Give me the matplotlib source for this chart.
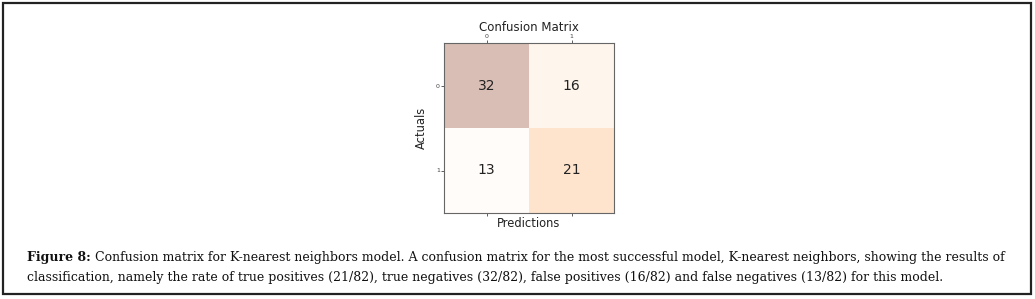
import numpy as np
import matplotlib
matplotlib.use("Agg")
import matplotlib.pyplot as plt
from matplotlib.patches import Rectangle

# ====== DATA =======
class_labels = ["0", "1"]
conf_matrix = np.array([[32, 16],
                        [13, 21]])

caption_bold = "Figure 8:"
caption_line1 = (" Confusion matrix for K-nearest neighbors model. A confusion matrix for the most "
                 "successful model, K-nearest neighbors, showing the results of")
caption_line2 = ("classification, namely the rate of true positives (21/82), true negatives (32/82), "
                 "false positives (16/82) and false negatives (13/82) for this model.")

W, H = 1035, 299
fig = plt.figure(figsize=(W / 100, H / 100), dpi=100)
fig.patch.set_facecolor("white")

# outer frame of the figure box
fig.add_artist(Rectangle((3 / W, 1 - 294 / H), 1028 / W, 291 / H, transform=fig.transFigure,
                         fill=False, edgecolor="#222222", linewidth=1.6))

# ====== CONFUSION MATRIX =======
ax = fig.add_axes([443 / W, 1 - 213 / H, 172 / W, 170 / H])
ax.matshow(conf_matrix, cmap=plt.cm.Oranges, alpha=0.3)
for i in range(conf_matrix.shape[0]):
    for j in range(conf_matrix.shape[1]):
        ax.text(j, i, str(conf_matrix[i, j]), va="center", ha="center", fontsize=10, color="#222222")

ax.set_xticks(range(len(class_labels)))
ax.set_yticks(range(len(class_labels)))
ax.set_xticklabels(class_labels)
ax.set_yticklabels(class_labels)
ax.tick_params(labelsize=4.5, length=2, width=0.6, colors="#444444", pad=1)
ax.tick_params(axis="x", bottom=True, top=True, labelbottom=False, labeltop=True)
for s in ax.spines.values():
    s.set_color("#666666")
    s.set_linewidth(0.8)
ax.set_xlabel("Predictions", fontsize=8.3, color="#222222", labelpad=1)
ax.set_ylabel("Actuals", fontsize=8.3, color="#222222", labelpad=6)
ax.set_title("Confusion Matrix", fontsize=8.5, color="#222222", pad=0)

# ====== CAPTION =======
serif = "DejaVu Serif"
x0 = 27 / W
y1 = 1 - 261 / H
y2 = 1 - 281 / H
fs = 9
t_bold = fig.text(x0, y1, caption_bold, fontsize=fs, fontweight="bold", family=serif,
                  color="#111111", va="baseline")
fig.canvas.draw()
r = fig.canvas.get_renderer()
bb = t_bold.get_window_extent(r)
t1 = fig.text(bb.x1 / W, y1, caption_line1, fontsize=fs, family=serif, color="#111111", va="baseline")
t2 = fig.text(x0, y2, caption_line2, fontsize=fs, family=serif, color="#111111", va="baseline")

# scale the caption so line 1 spans the same width as the reference
fig.canvas.draw()
width = t1.get_window_extent(r).x1 - bb.x0
scale = 977 / width
for t in (t_bold, t1, t2):
    t.set_fontsize(fs * scale)
fig.canvas.draw()
bb = t_bold.get_window_extent(r)
t1.set_x(bb.x1 / W)

fig.savefig("out.png", dpi=100)
